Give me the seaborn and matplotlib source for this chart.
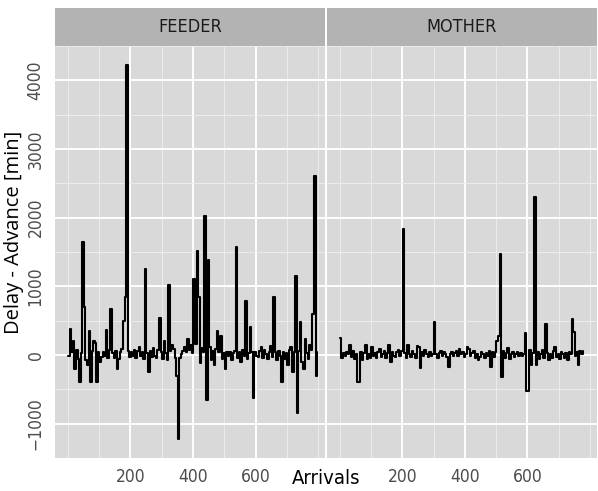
import numpy as np
import pandas as pd
import seaborn as sns
import matplotlib.pyplot as plt
from matplotlib import font_manager as fm
from matplotlib.patches import Rectangle

# data (one value every 5 arrivals)
vessels = ['FEEDER', 'MOTHER']

feeder_delay = [
    -20, 375, 40, 200, -200, 80, -60, -390, 30, 1650,
    700, -80, -150, 350, -400, 60, 200, 180, -400, 40,
    -100, -30, 50, -20, 360, -40, 80, 670, 30, -50,
    60, -200, -60, 40, 90, 490, 850, 4220, 60, -30,
    50, -20, 80, -40, 60, 120, -20, 40, -60, 1250,
    30, -250, 60, -30, 100, -20, -50, 70, 540, 40,
    -60, 200, 30, -80, 1020, 60, 150, 90, -40, -300,
    -1220, -50, 20, 60, 110, 40, 230, 80, 150, 30,
    1100, 160, 1520, 850, -120, 100, 50, 2030, -650, 1390,
    120, -80, 60, -150, 90, 350, 40, 280, -60, 30,
    -200, 50, -20, 40, -70, 30, 60, 1570, -40, 50,
    -100, 70, -20, 780, -60, 30, 410, 40, -620, 50,
    -10, -30, 60, 110, -40, 80, 20, -60, 40, 130,
    -30, 850, 40, -80, 60, -20, -400, 50, -60, 30,
    -150, 80, 120, -250, 40, 1150, -850, 60, 480, -100,
    -200, 240, 30, -60, 150, 70, 600, 2600, -300, 40,
]

mother_delay = [
    250, -50, 30, -20, 40, 10, 150, -30, 60, -60,
    20, -390, -390, 40, -80, 30, 150, -60, 20, -40,
    120, -20, 30, -50, 40, 90, -30, 20, 60, -40,
    30, 140, -100, 50, -20, -30, 40, 80, -10, 60,
    1840, 30, -40, 150, 20, -30, 60, 10, -40, 130,
    120, -190, 40, -20, 70, 10, -30, 40, -20, 10,
    480, 20, -40, 30, 60, -20, 40, 10, -30, -170,
    20, 50, -10, 30, 60, -20, 90, 20, 40, -30,
    10, 120, 90, -20, 30, 60, -40, 20, -70, -30,
    40, 10, -40, 30, -20, 60, -170, 40, -30, 50,
    200, 280, 1470, -320, 60, -40, 30, 100, -60, 20,
    40, -30, 10, 50, -20, 30, -10, 20, 320, -520,
    -520, 80, -150, 30, 2300, -150, 40, -60, 20, 80,
    -50, 450, 30, -80, 20, -40, 60, 110, -30, 20,
    -60, 40, 10, -40, 30, -70, 50, 20, 520, 330,
    -20, 40, -150, 60, 20, 60,
]

feeder_arrival = np.arange(len(feeder_delay)) * 5 + 1
mother_arrival = np.arange(len(mother_delay)) * 5 + 1

df = pd.concat([
    pd.DataFrame({'arrival': feeder_arrival, 'delay': feeder_delay, 'vessel': 'FEEDER'}),
    pd.DataFrame({'arrival': mother_arrival, 'delay': mother_delay, 'vessel': 'MOTHER'}),
])

sns.set_style('darkgrid', {'axes.facecolor': '#d9d9d9', 'grid.color': 'white'})

# narrow sans if one is around, else Roboto
fonts = fm.fontManager.ttflist
names = {f.name for f in fonts}
if 'Liberation Sans Narrow' in names:
    narrow = 'Liberation Sans Narrow'
elif any(f.name == 'DejaVu Sans' and f.stretch == 'condensed' for f in fonts):
    narrow = 'DejaVu Sans'
    plt.rcParams['font.stretch'] = 'condensed'
else:
    narrow = 'Roboto'
plt.rcParams['font.family'] = [narrow, 'DejaVu Sans']

g = sns.FacetGrid(df, col='vessel', col_order=vessels, height=4.91,
                  aspect=5.98 / 2 / 4.91, sharex=True, sharey=True)
g.map_dataframe(sns.lineplot, x='arrival', y='delay', drawstyle='steps-post',
                color='black', lw=1.5, estimator=None, sort=False)
g.set_titles('')
g.set_axis_labels('', '')
g.figure.subplots_adjust(left=55 / 598, right=597 / 598, bottom=1 - 458 / 491,
                         top=1 - 46 / 491, wspace=0.0056)

for ax, name in zip(g.axes.flat, vessels):
    ax.set_xlim(-41, 822)
    ax.set_ylim(-1490, 4500)
    ax.set_xticks([200, 400, 600])
    ax.set_xticks(range(0, 801, 100), minor=True)
    ax.set_yticks(range(-1000, 4001, 1000))
    ax.set_yticks(range(-1500, 4501, 1000), minor=True)
    ax.grid(which='major', color='white', lw=1.4)
    ax.grid(which='minor', color='#ececec', lw=0.7)
    ax.tick_params(which='major', length=3.5, width=0.8, color='#333333',
                   labelcolor='#4d4d4d', labelsize=12.5, pad=4)
    ax.tick_params(which='minor', length=0)
    for s in ax.spines.values():
        s.set_visible(False)
    ax.add_patch(Rectangle((0, 1), 1, 38 / 412, transform=ax.transAxes,
                           clip_on=False, color='#b3b3b3', lw=0))
    ax.text(0.5, 1 + 19 / 412, name, transform=ax.transAxes, ha='center',
            va='center', fontsize=13, color='#1a1a1a')

left_ax, right_ax = g.axes.flat
for lab in left_ax.get_yticklabels():
    lab.set_rotation(90)
    lab.set_va('center')
right_ax.tick_params(axis='y', length=0)

g.figure.text(14 / 598, 1 - 232 / 491, 'Delay - Advance [min]', rotation=90,
              ha='center', va='center', fontsize=14.5, color='black',
              family=['Open Sans', 'DejaVu Sans'], stretch='normal')
g.figure.text(326 / 598, 1 - 484 / 491, 'Arrivals', ha='center', va='baseline',
              fontsize=14.5, color='black')

g.figure.savefig('out.png', dpi=100)
